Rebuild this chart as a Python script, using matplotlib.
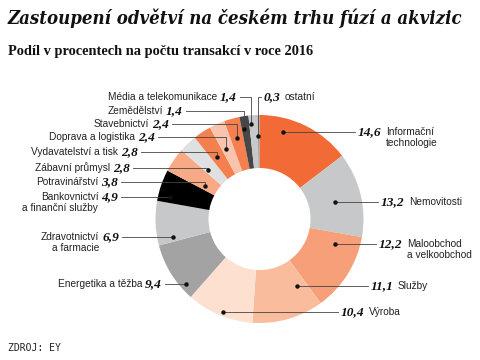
import matplotlib.pyplot as plt

# data
sectors = ["Informační\ntechnologie", "Nemovitosti", "Maloobchod\na velkoobchod", "Služby",
           "Výroba", "Energetika a těžba", "Zdravotnictví\na farmacie",
           "Bankovnictví\na finanční služby", "Potravinářství", "Zábavní průmysl",
           "Vydavatelství a tisk", "Doprava a logistika", "Stavebnictví", "Zemědělství",
           "Média a telekomunikace", "ostatní"]
shares = [14.6, 13.2, 12.2, 11.1, 10.4, 9.4, 6.9, 4.9, 3.8, 2.8, 2.8, 2.4, 2.4, 1.4, 1.4, 0.3]
colors = ["#f26a36", "#c7c8ca", "#f69f78", "#f9bd9d", "#fde0d0", "#a3a3a3", "#c7c8ca",
          "#000000", "#f8a986", "#dfe0e1", "#f4804f", "#f9c4ad", "#f4804f", "#474747",
          "#c7c8ca", "#9a9a9a"]

# label layout in pixels from top-left: side, label y, line end x, anchor point
layout = [
    ("R", 132, 355, (283, 132)),
    ("R", 202, 378, (335, 202)),
    ("R", 244, 376, (335, 244)),
    ("R", 286, 368, (297, 286)),
    ("R", 312, 338, (223, 312)),
    ("L", 284, 165, (186, 284)),
    ("L", 237, 122, (173, 237)),
    ("L", 197, 121, (170, 197)),
    ("L", 182, 121, (205, 186)),
    ("L", 168, 133, (208, 170)),
    ("L", 152, 141, (217, 157)),
    ("L", 137, 158, (226, 149)),
    ("L", 124, 172, (237, 138)),
    ("L", 111, 186, (244, 129)),
    ("L", 97, 240, (251, 124)),
    ("R", 97, 261, (258, 136)),
]

W, H = 480, 360


def P(x, y):
    return x, H - y


fig = plt.figure(figsize=(4.8, 3.6), dpi=100)
ax = fig.add_axes([0, 0, 1, 1])

ax.pie(shares, colors=colors, startangle=90, counterclock=False,
       radius=104, center=P(259.5, 219),
       wedgeprops=dict(width=53, linewidth=0))
ax.set_xlim(0, W)
ax.set_ylim(0, H)
ax.set_aspect("equal")
ax.axis("off")

name_font = dict(family="Liberation Sans", fontsize=7.3, color="#222222")
val_font = dict(family="Liberation Serif", fontsize=9.6, fontweight="bold",
                style="italic", color="#111111")
line_kw = dict(color="#444444", lw=0.6, zorder=3)

for name, v, (side, ly, lx, dot) in zip(sectors, shares, layout):
    dx, dy = dot
    value = f"{v:.1f}".replace(".", ",")
    lines = name.split("\n")
    if side == "R":
        xs, ys = [dx, dx, lx], [dy, ly, ly]
        vt = ax.text(*P(lx + 3, ly), value, ha="left", va="center", **val_font)
        nt = ax.annotate(lines[0], xy=(1, 0.5), xycoords=vt, xytext=(3, 0),
                         textcoords="offset points", ha="left", va="center", **name_font)
        if len(lines) > 1:
            ax.annotate(lines[1], xy=(0, 0), xycoords=nt, xytext=(0, -1),
                        textcoords="offset points", ha="left", va="top", **name_font)
    else:
        xs, ys = [lx, dx, dx], [ly, ly, dy]
        vt = ax.text(*P(lx - 3, ly), value, ha="right", va="center", **val_font)
        nt = ax.annotate(lines[0], xy=(0, 0.5), xycoords=vt, xytext=(-2, 0),
                         textcoords="offset points", ha="right", va="center", **name_font)
        if len(lines) > 1:
            ax.annotate(lines[1], xy=(1, 0), xycoords=nt, xytext=(0, -1),
                        textcoords="offset points", ha="right", va="top", **name_font)
    pts = [P(x, y) for x, y in zip(xs, ys)]
    ax.plot([p[0] for p in pts], [p[1] for p in pts], **line_kw)
    ax.plot(*P(dx, dy), "o", ms=2.2, color="#111111", zorder=4)

fig.text(8 / W, 1 - 18 / H, "Zastoupení odvětví na českém trhu fúzí a akvizic",
         family="DejaVu Serif", fontstretch="condensed", fontsize=13.3,
         fontweight="bold", style="italic",
         ha="left", va="center", color="#111111")
fig.text(8 / W, 1 - 51 / H, "Podíl v procentech na počtu transakcí v roce 2016",
         family="Liberation Serif", fontsize=10.4, fontweight="bold",
         ha="left", va="center", color="#111111")
fig.text(8 / W, 1 - 348 / H, "ZDROJ: EY", family="DejaVu Sans Mono", fontsize=7,
         ha="left", va="center", color="#222222")

fig.savefig("out.png", dpi=100, facecolor="white")
